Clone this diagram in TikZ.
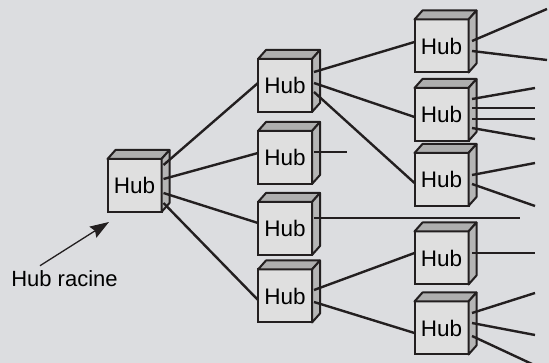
\documentclass[tikz,border=0pt]{standalone}
\usepackage{fontspec}
\setmainfont{Liberation Sans}
\usetikzlibrary{arrows.meta}
\definecolor{fond}{HTML}{DCDDE0}
\definecolor{face}{HTML}{DFDFDF}
\definecolor{dessus}{HTML}{AEAEAE}
\definecolor{cote}{HTML}{B5B5B5}
\definecolor{trait}{HTML}{231F20}
\tikzset{
  hubbox/.style={draw=trait, line width=2pt, fill=face, minimum width=54pt,
    minimum height=53pt, inner sep=0pt, outer sep=0pt,
    font=\fontsize{22.5}{25}\selectfont},
  hubface/.style={draw=trait, line width=2pt, line join=round},
  lien/.style={draw=trait, line width=2.4pt},
  fleche/.style={draw=trait, line width=1.3pt,
    -{Stealth[length=19pt,width=13pt,inset=2.5pt]}},
}
% un hub en 3D : nom, position
\newcommand{\hub}[2]{%
  \node[hubbox] (#1) at (#2) {Hub};
  \filldraw[hubface, fill=dessus] (#1.north west) -- ++(8,-9)
    -- ([shift={(8,-9)}]#1.north east) -- (#1.north east) -- cycle;
  \filldraw[hubface, fill=cote] (#1.north east) -- ++(8,-9)
    -- ([shift={(8,-9)}]#1.south east) -- (#1.south east) -- cycle;
}
\begin{document}
\begin{tikzpicture}[x=1pt, y=-1pt]
    \useasboundingbox (0,0) rectangle (549,363);
    \fill[fond] (0,0) rectangle (549,363);
    % Hubs
    \hub{r}{134.5,185.5}
    \hub{a}{285,85.5}
    \hub{b}{285,157.5}
    \hub{c}{285,228.5}
    \hub{d}{285,296}
    \hub{a1}{441.5,46}
    \hub{a2}{441.5,114.5}
    \hub{a3}{441.5,179.5}
    \hub{d1}{441.5,258}
    \hub{d2}{441.5,328}
    % Liens du hub racine
    \draw[lien] ([shift={(2,-20.5)}]r.east) -- ([shift={(0,-2.5)}]a.west);
    \draw[lien] ([shift={(2,-6.5)}]r.east) -- ([shift={(0,-4.5)}]b.west);
    \draw[lien] ([shift={(2,7.5)}]r.east) -- ([shift={(0,-5.5)}]c.west);
    \draw[lien] ([shift={(2,17.5)}]r.east) -- ([shift={(0,4)}]d.west);
    % Liens du deuxieme niveau
    \draw[lien] ([shift={(2,-13.5)}]a.east) -- ([shift={(0,-4)}]a1.west);
    \draw[lien] ([shift={(2,-2.5)}]a.east) -- ([shift={(0,2.5)}]a2.west);
    \draw[lien] ([shift={(2,6.5)}]a.east) -- ([shift={(0,3.5)}]a3.west);
    \draw[lien] ([shift={(2,-6)}]d.east) -- ([shift={(0,-5)}]d1.west);
    \draw[lien] ([shift={(2,6)}]d.east) -- ([shift={(0,5)}]d2.west);
    \coordinate (fb) at (347,152);
    \coordinate (fc) at (520,218);
    \draw[lien] ([shift={(2,-5.5)}]b.east) -- (fb);
    \draw[lien] ([shift={(2,-10.5)}]c.east) -- (fc);
    % Liens libres du troisieme niveau
    \foreach \h/\dy/\x/\y [count=\i] in {a1/-5/547/9, a1/5/547/60,
        a2/-15.5/535/88, a2/-6.5/535/108, a2/4.5/535/119, a2/13.5/535/139,
        a3/-4.5/535/163, a3/4.5/535/206, d1/-5/535/253,
        d2/-15/535/293, d2/-5/535/335, d2/8/532/364} {
      \coordinate (bout\i) at (\x,\y);
      \draw[lien] ([shift={(3.5,\dy)}]\h.east) -- (bout\i);
    }
    % Etiquette
    \node[inner sep=0pt, font=\fontsize{22}{25}\selectfont] (lbl) at (64.5,279) {Hub racine};
    \draw[fleche] ([shift={(-24.5,-5)}]lbl.north) -- ([shift={(1.5,10)}]r.south west);
\end{tikzpicture}
\end{document}
